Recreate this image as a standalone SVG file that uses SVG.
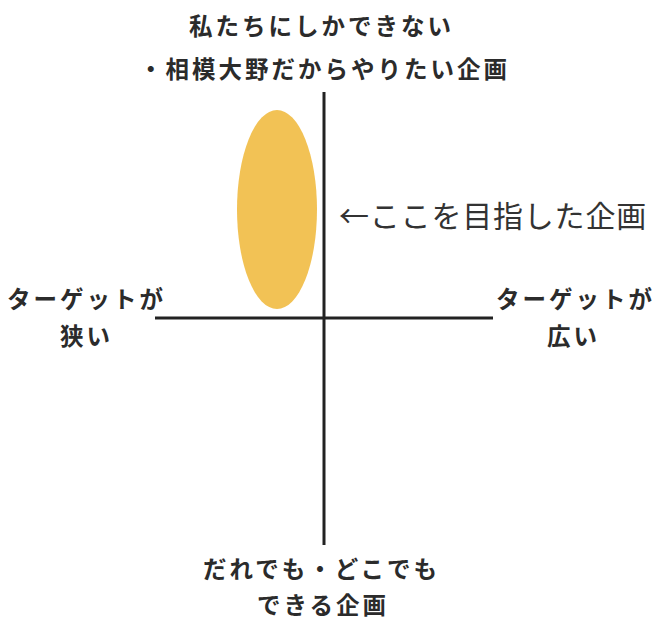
<svg xmlns="http://www.w3.org/2000/svg" width="659" height="621" viewBox="0 0 659 621">
<style>
.lbl{font-family:"Noto Sans CJK JP","Noto Sans",sans-serif;font-weight:bold;font-size:23.5px;letter-spacing:3px;fill:#2b2b2b}
.note{font-family:"Noto Sans CJK JP","Noto Sans",sans-serif;font-weight:normal;font-size:30px;letter-spacing:0.8px;fill:#333}
.axis{stroke:#222;stroke-width:3;fill:none}
</style>
<rect width="659" height="621" fill="#fff"/>
<g id="target-area"><ellipse cx="277" cy="209.5" rx="40" ry="99.5" fill="#F2C255"/></g>
<g id="connectors">
<line class="axis" x1="324" y1="92" x2="324" y2="545"/>
<line class="axis" x1="155" y1="318" x2="493" y2="318"/>
</g>
<g id="top-label">
<text class="lbl" x="189" y="35">私たちにしかできない</text>
<text class="lbl" x="139" y="78">・相模大野だからやりたい企画</text>
</g>
<g id="left-label">
<text class="lbl" x="7" y="308">ターゲットが</text>
<text class="lbl" x="60" y="345">狭い</text>
</g>
<g id="right-label">
<text class="lbl" x="496" y="308">ターゲットが</text>
<text class="lbl" x="547" y="345">広い</text>
</g>
<g id="bottom-label">
<text class="lbl" x="203" y="578">だれでも・どこでも</text>
<text class="lbl" x="257" y="614">できる企画</text>
</g>
<g id="note">
<text class="note" x="339" y="227">←ここを目指した企画</text>
</g>
</svg>
